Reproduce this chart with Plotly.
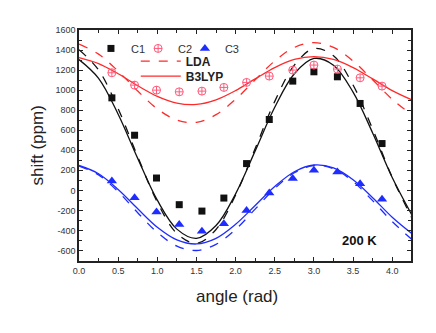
import plotly.graph_objects as go

# measured points (angle in rad, shift in ppm)
angle_pts = [0.42, 0.71, 0.99, 1.28, 1.57, 1.85, 2.14, 2.43, 2.73, 3.00, 3.30, 3.59, 3.87]
c1 = [923, 550, 123, -143, -207, -77, 267, 707, 1090, 1183, 1133, 867, 467]
c2 = [1173, 1050, 1000, 983, 990, 1027, 1077, 1140, 1200, 1250, 1210, 1123, 1040]
c3 = [93, -73, -217, -340, -407, -333, -200, -27, 117, 200, 183, 67, -90]

# calculated curves, read at every 0.25 rad
angle_fit = [0, 0.25, 0.5, 0.75, 1.0, 1.25, 1.5, 1.75, 2.0, 2.25, 2.5, 2.75,
             3.0, 3.25, 3.5, 3.75, 4.0, 4.25]
c1_b3lyp = [1305, 1118, 760, 319, -98, -387, -479, -351, -35, 394, 829, 1163,
            1316, 1249, 980, 573, 129, -243]
c1_lda = [1403, 1201, 814, 336, -117, -430, -529, -391, -47, 417, 888, 1249,
          1415, 1343, 1051, 611, 130, -274]
c2_b3lyp = [1325, 1265, 1163, 1044, 938, 870, 857, 903, 995, 1112, 1225, 1306,
            1335, 1306, 1225, 1112, 995, 903]
c2_lda = [1459, 1359, 1189, 991, 813, 701, 679, 755, 909, 1103, 1291, 1426,
          1475, 1426, 1291, 1103, 909, 755]
c3_b3lyp = [248, 166, 9, -184, -368, -494, -535, -479, -339, -151, 39, 186,
            253, 224, 106, -73, -268, -431]
c3_lda = [243, 154, -14, -223, -420, -556, -600, -539, -390, -187, 18, 176,
          248, 216, 89, -103, -312, -488]

y_ticks = [-600, -400, -200, 0, 200, 400, 600, 800, 1000, 1200, 1400, 1600]
x_ticks = [0.0, 0.5, 1.0, 1.5, 2.0, 2.5, 3.0, 3.5, 4.0]

black = '#111111'
red = '#ff2a2a'
pink = '#ff5a7a'
blue = '#1f2cff'

fig = go.Figure()

curves = [
    (c1_b3lyp, black, 'solid'), (c1_lda, black, 'dash'),
    (c2_b3lyp, red, 'solid'), (c2_lda, red, 'dash'),
    (c3_b3lyp, blue, 'solid'), (c3_lda, blue, 'dash'),
]
for ys, col, dash in curves:
    fig.add_trace(go.Scatter(x=angle_fit, y=ys, mode='lines', showlegend=False,
                             line=dict(color=col, width=1.3, dash=dash, shape='spline')))

# each marker series gets its own small legend so they can sit close together
fig.add_trace(go.Scatter(x=angle_pts, y=c1, mode='markers', name='C1', legend='legend',
                         marker=dict(symbol='square', size=7, color=black)))
fig.add_trace(go.Scatter(x=angle_pts, y=c2, mode='markers', name='C2', legend='legend4',
                         marker=dict(symbol='circle-cross-open', size=8, color=pink,
                                     line=dict(width=1, color=pink))))
fig.add_trace(go.Scatter(x=angle_pts, y=c3, mode='markers', name='C3', legend='legend5',
                         marker=dict(symbol='triangle-up', size=9, color=blue)))

# legend entries for the two methods
fig.add_trace(go.Scatter(x=[None], y=[None], mode='lines', name='<b>LDA</b>', legend='legend2',
                         line=dict(color=red, width=1.3, dash='dash')))
fig.add_trace(go.Scatter(x=[None], y=[None], mode='lines', name='<b>B3LYP</b>', legend='legend3',
                         line=dict(color=red, width=1.3)))

fig.add_annotation(x=0.846, y=0.09, xref='paper', yref='paper', text='<b>200 K</b>',
                   xanchor='center', yanchor='middle',
                   showarrow=False, font=dict(size=13, color='#111111'))
fig.add_annotation(x=-0.1235, y=0.5, xref='paper', yref='paper', text='shift (ppm)',
                   xanchor='center', yanchor='middle',
                   textangle=-90, showarrow=False, font=dict(size=17, color='#222222'))
fig.add_annotation(x=0.476, y=-0.152, xref='paper', yref='paper', text='angle (rad)',
                   xanchor='center', yanchor='middle',
                   showarrow=False, font=dict(size=17, color='#222222'))

axis_common = dict(showline=True, linecolor='#222222', linewidth=1.5, mirror='ticks',
                   ticks='inside', ticklen=4, tickcolor='#222222', showgrid=False,
                   zeroline=False, tickfont=dict(family='Liberation Sans', size=9, color='#333333'))

small_legend = dict(orientation='h', yanchor='top', xanchor='left', bgcolor='rgba(0,0,0,0)',
                    font=dict(size=11, color='#333333'))
method_legend = dict(orientation='v', yanchor='top', xanchor='left', bgcolor='rgba(0,0,0,0)',
                     font=dict(size=12, color='#222222'), itemwidth=40)

fig.update_layout(
    width=436, height=333,
    margin=dict(l=71, r=33, t=22, b=80),
    paper_bgcolor='white', plot_bgcolor='white',
    font=dict(family='Liberation Sans', color='#222222'),
    xaxis=dict(range=[0, 4.24], tickvals=x_ticks, ticktext=[f'{v:.1f}' for v in x_ticks],
               minor=dict(dtick=0.25, ticks='inside', ticklen=3, tickcolor='#222222'),
               **axis_common),
    yaxis=dict(range=[-705, 1600], tickvals=y_ticks, ticktext=[str(v) for v in y_ticks],
               minor=dict(dtick=100, ticks='inside', ticklen=3, tickcolor='#222222'),
               **axis_common),
    legend=dict(x=0.036, y=0.983, **small_legend),
    legend4=dict(x=0.178, y=0.983, **small_legend),
    legend5=dict(x=0.319, y=0.983, **small_legend),
    legend2=dict(x=0.171, y=0.928, **method_legend),
    legend3=dict(x=0.171, y=0.863, **method_legend),
)

fig.write_html('out.html')
